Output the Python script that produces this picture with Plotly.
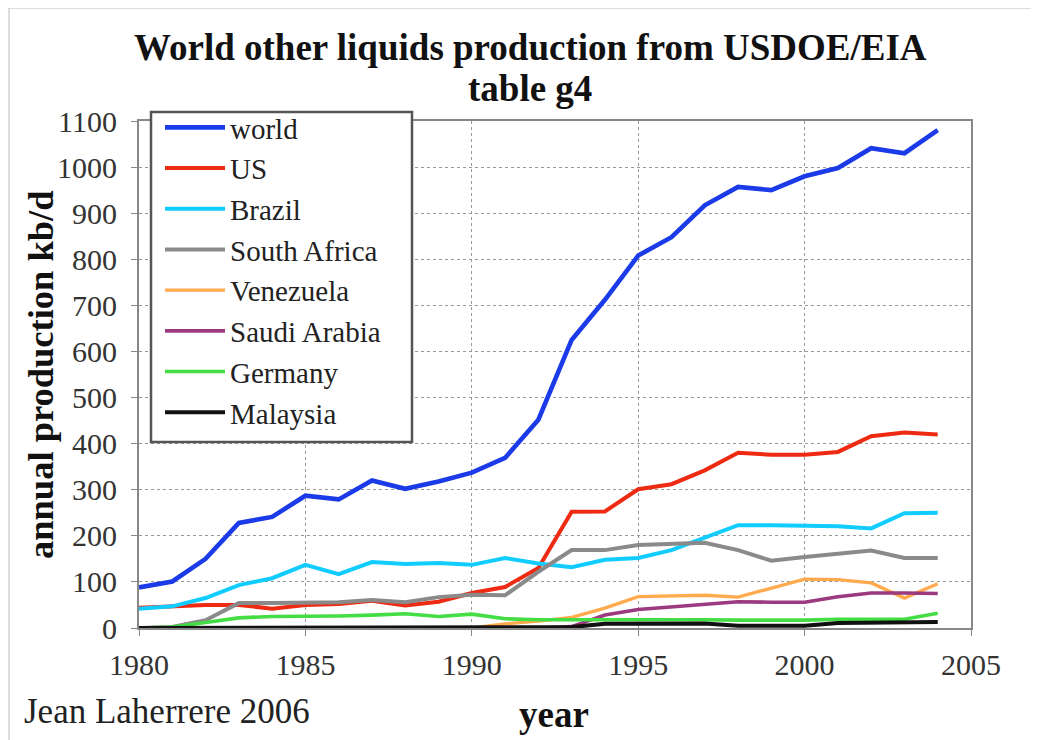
import plotly.graph_objects as go

years = list(range(1980, 2005))

world = [88, 101, 150, 228, 241, 287, 279, 320, 302, 318, 337, 369, 452, 625, 712, 808, 848, 917, 957, 950, 980, 998, 1041, 1030, 1080]
us = [44, 47, 50, 50, 42, 50, 52, 59, 49, 57, 76, 89, 130, 252, 253, 301, 312, 342, 380, 376, 376, 382, 416, 424, 420]
brazil = [42, 47, 65, 93, 108, 137, 117, 143, 139, 141, 137, 152, 140, 132, 148, 152, 169, 197, 223, 223, 222, 221, 216, 249, 250]
south_africa = [0, 2, 17, 54, 54, 55, 56, 61, 56, 67, 72, 71, 122, 169, 169, 180, 183, 185, 169, 146, 154, 161, 168, 152, 152]
venezuela = [0, 0, 0, 0, 0, 0, 0, 0, 0, 0, 0, 9, 15, 23, 43, 68, 69, 71, 67, 87, 106, 105, 98, 65, 96]
saudi = [0, 0, 0, 0, 0, 0, 0, 0, 0, 0, 0, 0, 0, 3, 28, 40, 46, 52, 57, 56, 56, 68, 76, 76, 75]
germany = [0, 2, 12, 22, 25, 25, 26, 28, 31, 25, 30, 20, 18, 18, 18, 19, 19, 18, 17, 17, 17, 19, 19, 19, 32]
malaysia = [0, 0, 0, 0, 0, 0, 0, 0, 0, 0, 0, 0, 0, 2, 9, 10, 10, 10, 5, 5, 5, 11, 11, 11, 13]

series_names = ["world", "US", "Brazil", "South Africa", "Venezuela", "Saudi Arabia", "Germany", "Malaysia"]
series_values = [world, us, brazil, south_africa, venezuela, saudi, germany, malaysia]
series_colors = ["#1c3be8", "#ee2a12", "#11ccff", "#8a8a8a", "#ffaa4d", "#9b3a7f", "#44dd44", "#111111"]
series_widths = [4.6, 4.0, 4.0, 4.0, 3.4, 3.6, 3.6, 4.0]

x_ticks = [1980, 1985, 1990, 1995, 2000, 2005]
y_ticks = list(range(0, 1101, 100))

OFF = 8  # page body margin
W, H = 1031, 732
# plot area in page coordinates: left 139, right 971, top 121, bottom 628
L, T = 139 - OFF, 121 - OFF
R = W - (971 - OFF)
B = H - (628 - OFF)
pw, ph = W - L - R, H - T - B

def px_x(x):
    return (x - OFF - L) / pw

def px_y(y):
    return (H - B - (y - OFF)) / ph

SERIF = "Liberation Serif, Times New Roman, serif"

fig = go.Figure()
for i, (name, vals, col, w) in enumerate(zip(series_names, series_values, series_colors, series_widths)):
    fig.add_trace(go.Scatter(x=years, y=vals, mode="lines", name=name,
                             line=dict(color=col, width=w)))

fig.update_layout(
    width=W, height=H,
    margin=dict(l=L, r=R, t=T, b=B),
    paper_bgcolor="white", plot_bgcolor="white",
    showlegend=True,
    legend=dict(
        x=px_x(160), y=px_y(102), xanchor="left", yanchor="top",
        bgcolor="rgba(0,0,0,0)", borderwidth=0,
        font=dict(family=SERIF, size=29, color="#222"),
        itemwidth=60,
    ),
    xaxis=dict(
        range=[1980, 2005], tickvals=x_ticks, ticktext=[str(t) for t in x_ticks],
        showgrid=True, gridcolor="#999", griddash="dot", gridwidth=1,
        showline=True, linecolor="#888", linewidth=2, mirror=True,
        ticks="outside", ticklen=6, tickcolor="#888",
        tickfont=dict(family=SERIF, size=30, color="#333"),
        ticklabelstandoff=3, zeroline=False,
    ),
    yaxis=dict(
        range=[0, 1100], tickvals=y_ticks, ticktext=[str(t) for t in y_ticks],
        showgrid=True, gridcolor="#999", griddash="dot", gridwidth=1,
        showline=True, linecolor="#888", linewidth=2, mirror=True,
        ticks="outside", ticklen=6, tickcolor="#888",
        tickfont=dict(family=SERIF, size=30, color="#333"),
        ticklabelstandoff=8, zeroline=False,
    ),
)

# outer frame
fig.add_shape(type="rect", xref="paper", yref="paper",
              x0=px_x(9), x1=px_x(1060), y0=px_y(760), y1=px_y(8),
              line=dict(color="#bbbbbb", width=1), fillcolor="rgba(0,0,0,0)", layer="below")

# legend box
fig.add_shape(type="rect", xref="paper", yref="paper",
              x0=px_x(151), x1=px_x(412), y0=px_y(442), y1=px_y(112),
              line=dict(color="#555555", width=2.5), fillcolor="white", layer="above")

ann = [
    dict(text="<b>World other liquids production from USDOE/EIA</b>", x=px_x(530), y=px_y(48), size=37),
    dict(text="<b>table g4</b>", x=px_x(530), y=px_y(89), size=37),
    dict(text="<b>year</b>", x=px_x(554), y=px_y(714), size=37),
]
for a in ann:
    fig.add_annotation(text=a["text"], x=a["x"], y=a["y"], xref="paper", yref="paper",
                       xanchor="center", yanchor="middle", showarrow=False,
                       font=dict(family=SERIF, size=a["size"], color="#111"))

fig.add_annotation(text="Jean Laherrere 2006", x=px_x(22), y=px_y(711), xref="paper", yref="paper",
                   xanchor="left", yanchor="middle", showarrow=False,
                   font=dict(family=SERIF, size=35, color="#222"))

fig.add_annotation(text="<b>annual production kb/d</b>", x=px_x(40), y=px_y(375), xref="paper", yref="paper",
                   xanchor="center", yanchor="middle", textangle=-90, showarrow=False,
                   font=dict(family=SERIF, size=36.5, color="#111"))

fig.write_html("out.html")
